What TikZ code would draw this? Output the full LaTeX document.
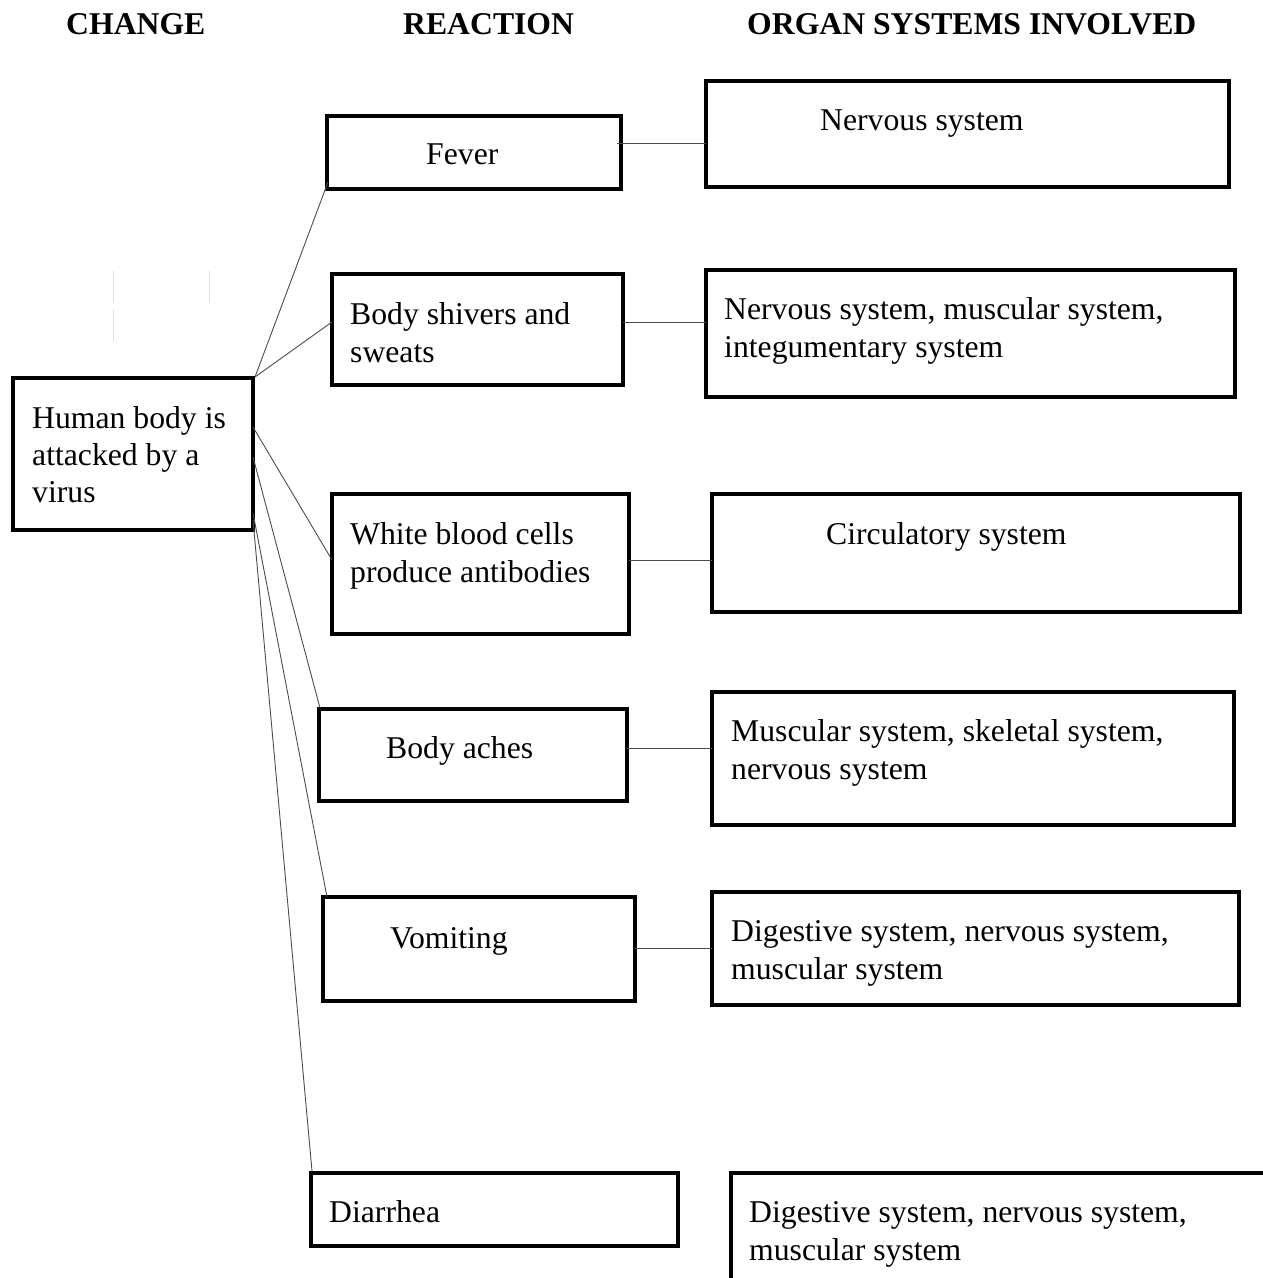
\documentclass[tikz,border=0pt]{standalone}
\usepackage{fontspec}
\setmainfont{Liberation Serif}
\usetikzlibrary{calc}
\begin{document}
\begin{tikzpicture}[x=1pt,y=-1pt,
  box/.style={draw,line width=3.2pt,inner sep=0pt,outer sep=0pt,anchor=north west},
  conn/.style={draw=black!70,line width=0.9pt},
  txt/.style={inner sep=0pt,anchor=base west,font=\fontsize{31.7}{38}\selectfont},
  hdr/.style={inner sep=0pt,anchor=base west,font=\fontsize{31.7}{38}\selectfont\bfseries},
  faint/.style={draw=yellow!85!white,line width=0.6pt}]
\useasboundingbox (0,0) rectangle (1263,1278);

% headers
\node[hdr] (h1) at (66,34) {CHANGE};
\node[hdr] (h2) at (403,34) {REACTION};
\node[hdr] (h3) at (747,34) {ORGAN SYSTEMS INVOLVED};

% faint marks
\draw[faint] (113,271) -- (113,303) (113,309) -- (113,341) (209,271) -- (209,303);

% change box
\node[box,minimum width=240pt,minimum height=152pt] (human) at (13,378) {};
\node[txt] (human1) at (32,428) {Human body is};
\node[txt] (human2) at (32,465) {attacked by a};
\node[txt] (human3) at (32,502) {virus};

% reaction boxes
\node[box,minimum width=294pt,minimum height=73pt] (fever) at (327,116) {};
\node[txt] (fevert) at (426,164) {Fever};

\node[box,minimum width=291pt,minimum height=111pt] (shiv) at (332,274) {};
\node[txt] (shiv1) at (350,324) {Body shivers and};
\node[txt] (shiv2) at (350,362) {sweats};

\node[box,minimum width=297pt,minimum height=140pt] (wbc) at (332,494) {};
\node[txt] (wbc1) at (350,544) {White blood cells};
\node[txt] (wbc2) at (350,582) {produce antibodies};

\node[box,minimum width=308pt,minimum height=92pt] (aches) at (319,709) {};
\node[txt] (achest) at (386,758) {Body aches};

\node[box,minimum width=312pt,minimum height=104pt] (vomit) at (323,897) {};
\node[txt] (vomitt) at (390,948) {Vomiting};

\node[box,minimum width=367pt,minimum height=73pt] (diar) at (311,1173) {};
\node[txt] (diart) at (329,1222) {Diarrhea};

% organ boxes
\node[box,minimum width=523pt,minimum height=106pt] (nerv) at (706,81) {};
\node[txt] (nervt) at (820,130) {Nervous system};

\node[box,minimum width=529pt,minimum height=127pt] (nmi) at (706,270) {};
\node[txt] (nmi1) at (724,319) {Nervous system, muscular system,};
\node[txt] (nmi2) at (724,357) {integumentary system};

\node[box,minimum width=528pt,minimum height=118pt] (circ) at (712,494) {};
\node[txt] (circt) at (826,544) {Circulatory system};

\node[box,minimum width=522pt,minimum height=133pt] (msn) at (712,692) {};
\node[txt] (msn1) at (731,741) {Muscular system, skeletal system,};
\node[txt] (msn2) at (731,779) {nervous system};

\node[box,minimum width=527pt,minimum height=113pt] (dnm) at (712,892) {};
\node[txt] (dnm1) at (731,941) {Digestive system, nervous system,};
\node[txt] (dnm2) at (731,979) {muscular system};

\node[box,minimum width=600pt,minimum height=140pt] (dnmb) at (731,1173) {};
\node[txt] (dnmb1) at (749,1222) {Digestive system, nervous system,};
\node[txt] (dnmb2) at (749,1260) {muscular system};

% connectors change -> reaction
\draw[conn] ([shift={(2,-1)}]human.north east) -- ([shift={(1,-7)}]fever.south west);
\draw[conn] ([shift={(2,-1)}]human.north east) -- ([shift={(0,-7.5)}]shiv.west);
\draw[conn] ([shift={(0,49)}]human.north east) -- ([shift={(0,-4)}]wbc.west);
\draw[conn] ([shift={(0,79)}]human.north east) -- ([shift={(1,-1)}]aches.north west);
\draw[conn] ([shift={(0,135)}]human.north east) -- ([shift={(4,0)}]vomit.north west);
\draw[conn] ([shift={(0,142)}]human.north east) -- ([shift={(1,-2)}]diar.north west);

% connectors reaction -> organs
\draw[conn] ([shift={(-4,-9.5)}]fever.east) coordinate (c1) -- (c1 -| nerv.west);
\draw[conn] ([shift={(0,-7.5)}]shiv.east) coordinate (c2) -- (c2 -| nmi.west);
\draw[conn] ([shift={(0,-4)}]wbc.east) coordinate (c3) -- (c3 -| circ.west);
\draw[conn] ([shift={(0,-7)}]aches.east) coordinate (c4) -- (c4 -| msn.west);
\draw[conn] ([shift={(0,-1)}]vomit.east) coordinate (c5) -- (c5 -| dnm.west);
\end{tikzpicture}
\end{document}
